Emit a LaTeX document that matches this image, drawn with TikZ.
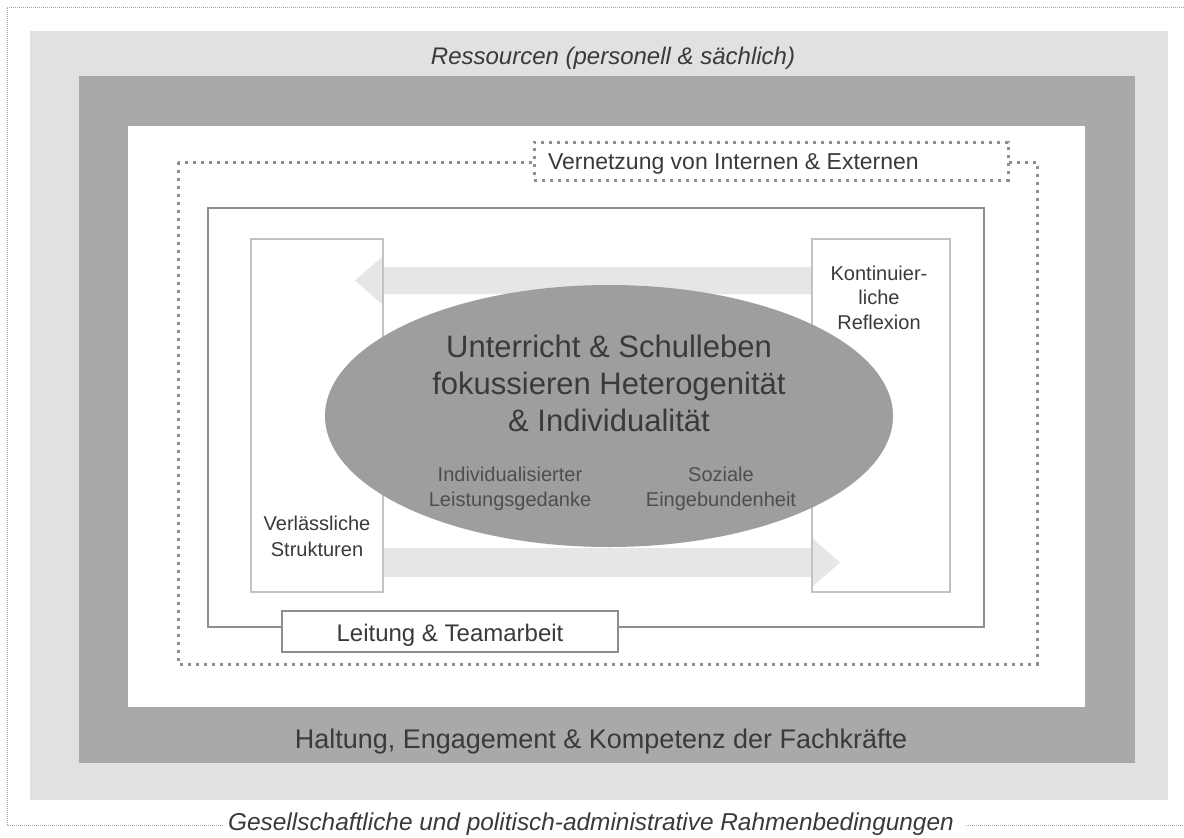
\documentclass[tikz,border=0pt]{standalone}
\usepackage{fontspec}
\setmainfont{Liberation Sans}
\usetikzlibrary{shapes.geometric}
\definecolor{lightg}{HTML}{E0E1E2}
\definecolor{darkg}{HTML}{A8A9AB}
\definecolor{ellg}{HTML}{9D9EA0}
\definecolor{arrg}{HTML}{E5E6E7}
\definecolor{lineg}{HTML}{8E8E8E}
\definecolor{boxg}{HTML}{C2C2C2}
\definecolor{dotg}{HTML}{8F8F8F}
\definecolor{txtc}{HTML}{3A3A3A}
\newcommand\myfs[2]{\fontsize{#1}{#2}\selectfont}
\begin{document}
\begin{tikzpicture}[x=1pt,y=-1pt,
  every node/.style={inner sep=0pt,outer sep=0pt,text=txtc},
  framel/.style={draw=dotg!80,line width=0.8pt,dash pattern=on 1pt off 1pt},
  dotline/.style={draw=dotg,line width=3pt,dash pattern=on 3pt off 5pt},
  sidebox/.style={draw=boxg,line width=2pt,minimum height=353pt},
  blockarrow/.style={fill=arrg},
  bigtxt/.style={font=\myfs{31}{37},anchor=base},
  midtxt/.style={font=\myfs{23}{28},anchor=base},
  smalltxt/.style={font=\myfs{20}{25},anchor=base}]
\useasboundingbox (0,0) rectangle (1184,838);
\fill[white] (0,0) rectangle (1184,838);
% outer frame
\node[font=\myfs{24.4}{29}\itshape,anchor=base] (gesell) at (591,830) {Gesellschaftliche und politisch-administrative Rahmenbedingungen};
\coordinate (gl) at (224,825);
\coordinate (gr) at (966,825);
\draw[framel] (1184,7) -- (7,7) -- (7,825) -- (gl);
\draw[framel] (gr) -- (1184,825);
% nested backgrounds
\fill[lightg] (30,31) rectangle (1168,800);
\fill[darkg] (79,76) rectangle (1135,763);
\fill[white] (128,126) rectangle (1085,707);
\node[font=\myfs{24}{29}\itshape,anchor=base] (res) at (613,64) {Ressourcen (personell \& sächlich)};
\node[font=\myfs{27}{32},anchor=base] (halt) at (601,748) {Haltung, Engagement \& Kompetenz der Fachkräfte};
% dotted network frame
\draw[dotline] (178,162) rectangle (1037,664);
\node[dotline,fill=white,minimum width=474pt,minimum height=38pt] (netz) at (771,161) {};
\node[midtxt,anchor=base west] (netzt) at (548,169.5) {Vernetzung von Internen \& Externen};
% inner solid frame
\draw[draw=lineg,line width=2.2pt] (208,208) rectangle (984,627);
\node[draw=lineg,line width=2.2pt,fill=white,minimum width=336pt,minimum height=41pt] (leit) at (450,631.5) {};
\node[font=\myfs{24}{29},anchor=base] (leitt) at (450,641) {Leitung \& Teamarbeit};
% side box centres
\coordinate (lboxc) at (317,415.5);
\coordinate (rboxc) at (881,415.5);
% block arrows
\fill[blockarrow] (812,267) -- (383,267) -- (383,256) -- (355,280.5) -- (383,305) -- (383,294) -- (812,294) -- cycle;
\fill[blockarrow] (383,548) -- (812,548) -- (812,538) -- (840,562.5) -- (812,587) -- (812,577) -- (383,577) -- cycle;
% side boxes
\node[sidebox,minimum width=132pt] (lbox) at (lboxc) {};
\node[sidebox,minimum width=138pt] (rbox) at (rboxc) {};
% ellipse
\node[ellipse,fill=ellg,minimum width=568pt,minimum height=262pt] (ell) at (609,416) {};
\node[bigtxt] (m1) at (609,357) {Unterricht \& Schulleben};
\node[bigtxt] (m2) at (609,394) {fokussieren Heterogenität};
\node[bigtxt] (m3) at (609,431) {\& Individualität};
\node[smalltxt,text=txtc!90] (i1) at (510,481) {Individualisierter};
\node[smalltxt,text=txtc!90] (i2) at (510,506) {Leistungsgedanke};
\node[smalltxt,text=txtc!90] (s1) at (721,481) {Soziale};
\node[smalltxt,text=txtc!90] (s2) at (721,506) {Eingebundenheit};
% box texts
\node[smalltxt] (k1) at (879,280) {Kontinuier-};
\node[smalltxt] (k2) at (879,304) {liche};
\node[smalltxt] (k3) at (879,329) {Reflexion};
\node[smalltxt] (v1) at (317,530) {Verlässliche};
\node[smalltxt] (v2) at (317,556) {Strukturen};
\end{tikzpicture}
\end{document}
